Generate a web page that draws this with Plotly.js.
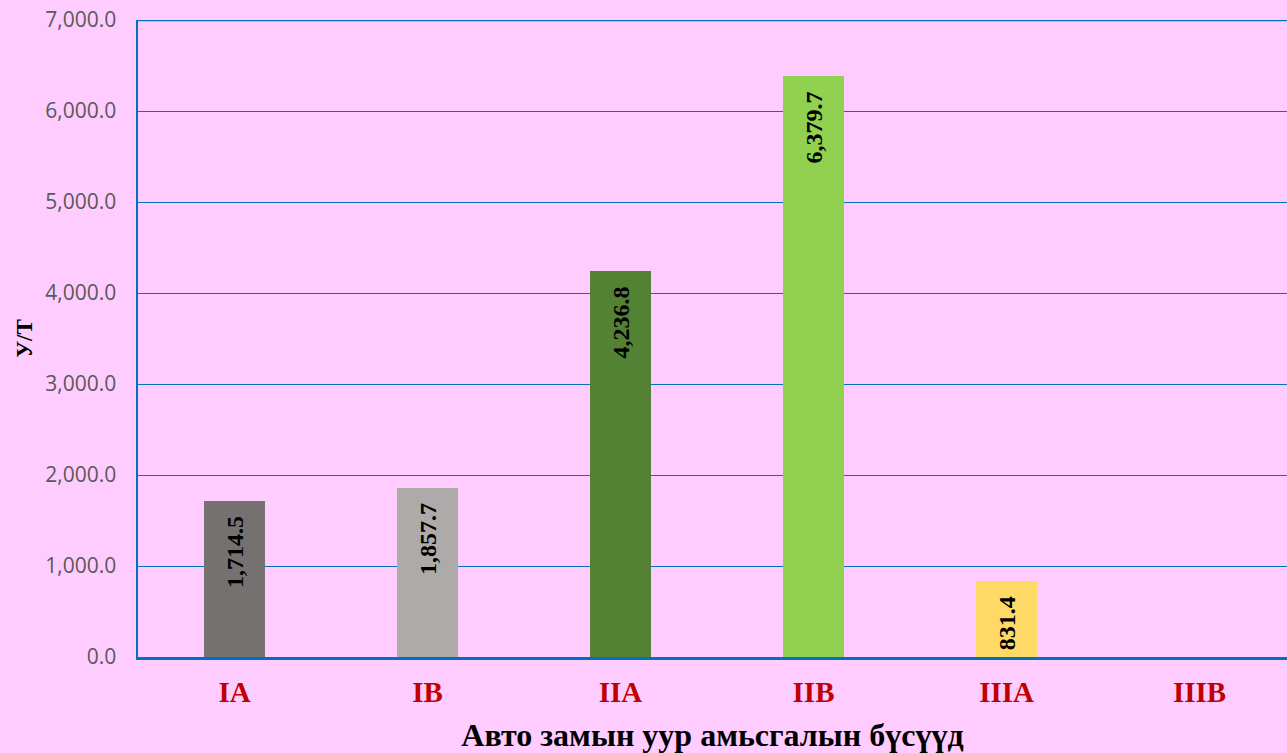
<!DOCTYPE html>
<html>
<head>
<meta charset="utf-8">
<script src="https://cdn.plot.ly/plotly-3.0.1.min.js"></script>
<style>html,body{margin:0;padding:0;background:#FFCCFF;}#chart{width:1287px;height:753px;}</style>
</head>
<body>
<div id="chart"></div>
<script>
const categories = ["IA", "IB", "IIA", "IIB", "IIIA", "IIIB"];
const values = [1714.5, 1857.7, 4236.8, 6379.7, 831.4, 0];
const barColors = ["#767171", "#AEAAAA", "#548235", "#92D050", "#FFD966", "#FFD966"];
const labels = values.map(v => v > 0 ? v.toLocaleString("en-US", {minimumFractionDigits: 1, maximumFractionDigits: 1}) : "");
const yTicks = [0, 1000, 2000, 3000, 4000, 5000, 6000, 7000];

const trace = {
  type: "bar",
  x: categories,
  y: values,
  width: 0.316,
  marker: {color: barColors},
  text: labels,
  texttemplate: "<b>%{text}</b>\u00a0\u00a0",
  textposition: "inside",
  insidetextanchor: "end",
  textangle: -90,
  constraintext: "none",
  textfont: {family: "Liberation Serif, Times New Roman, serif", size: 24, color: "#000000"},
  hoverinfo: "x+y"
};

const layout = {
  width: 1287,
  height: 753,
  paper_bgcolor: "#FFCCFF",
  plot_bgcolor: "#FFCCFF",
  margin: {l: 138, r: 0, t: 20, b: 96},
  showlegend: false,
  bargap: 0,
  xaxis: {
    type: "category",
    range: [-0.5, 5.453],
    tickvals: categories,
    ticktext: categories.map(c => "<b>" + c + "</b>"),
    showgrid: false,
    showline: true,
    linecolor: "#0070C0",
    linewidth: 3,
    ticks: "outside",
    ticklen: 7,
    tickcolor: "rgba(0,0,0,0)",
    tickfont: {family: "Liberation Serif, Times New Roman, serif", size: 29, color: "#C00000"},
    title: {text: "<b>Авто замын уур амьсгалын бүсүүд</b>", font: {family: "Liberation Serif, Times New Roman, serif", size: 32, color: "#000000"}, standoff: 18},
    fixedrange: true
  },
  yaxis: {
    range: [0, 7000],
    tickvals: yTicks,
    tickformat: ",.1f",
    showgrid: true,
    gridcolor: "#0070C0",
    gridwidth: 1,
    zeroline: false,
    showline: true,
    linecolor: "#0070C0",
    linewidth: 2.5,
    ticks: "outside",
    ticklen: 15,
    tickcolor: "rgba(0,0,0,0)",
    tickfont: {family: "Open Sans, sans-serif", size: 21, color: "#595959"},
    title: {text: "<b>У/Т</b>", font: {family: "Liberation Serif, Times New Roman, serif", size: 23, color: "#000000"}, standoff: 6},
    fixedrange: true
  },
  shapes: [{
    type: "line", xref: "paper", yref: "y", x0: 0, x1: 1, y0: 7000, y1: 7000,
    line: {color: "#0070C0", width: 2.5}
  }]
};

Plotly.newPlot("chart", [trace], layout, {displayModeBar: false, staticPlot: true});
</script>
</body>
</html>
